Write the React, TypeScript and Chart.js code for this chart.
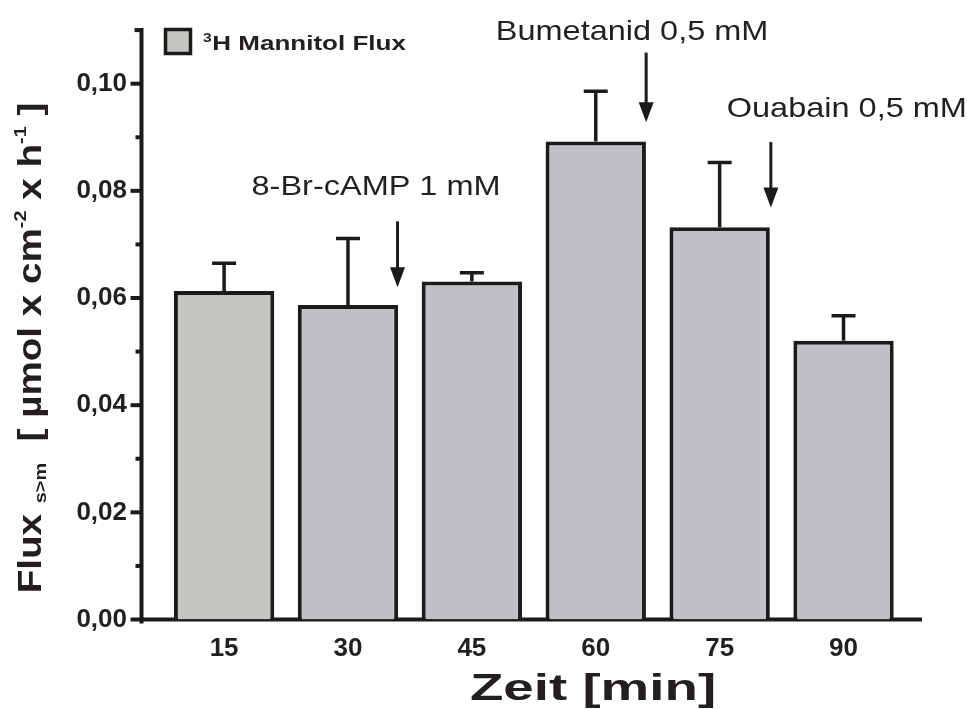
import React, { useEffect, useRef } from 'react';
import { Chart, registerables } from 'chart.js';

Chart.register(...registerables);

// ---- data ----
const categories = [15, 30, 45, 60, 75, 90];
const xTickLabels = ['15', '30', '45', '60', '75', '90'];
const fluxMeans = [0.0613, 0.0587, 0.0631, 0.0892, 0.0732, 0.052];
const fluxSem = [0.0052, 0.0124, 0.0016, 0.0094, 0.0121, 0.0047];
const yTickValues = [0, 0.01, 0.02, 0.03, 0.04, 0.05, 0.06, 0.07, 0.08, 0.09, 0.1];
const yTickLabels = ['0,00', '', '0,02', '', '0,04', '', '0,06', '', '0,08', '', '0,10'];
const seriesLabel = 'H Mannitol Flux';
const seriesLabelSup = '3';
const xTitle = 'Zeit [min]';

const annotationTexts = ['8-Br-cAMP 1 mM', 'Bumetanid 0,5 mM', 'Ouabain 0,5 mM'];
const annotationTextX = [33.4, 64.4, 90.4];
const annotationTextY = [0.0806, 0.1096, 0.0953];
const arrowX = [36, 66.1, 81.2];
const arrowFrom = [0.0743, 0.1058, 0.0891];
const arrowTo = [0.062, 0.0928, 0.0769];

const X_MIN = 5;
const X_MAX = 99.5;
const Y_MAX = 0.11;

const INK = '#1c1a1b';
const TEXT = '#231f20';
const barColors = ['#c5c5c2', '#c0c1c5', '#c0c1c5', '#c0c1c5', '#c0c1c5', '#c0c1c5'];
const FONT = "'Liberation Sans', Arial, sans-serif";

const decorPlugin = {
  id: 'decor',
  beforeDatasetsDraw(chart: any) {
    const { ctx, scales, chartArea } = chart;
    const x = scales.x;
    const y = scales.y;
    const left = chartArea.left;
    const bottom = y.getPixelForValue(0);
    const top = y.getPixelForValue(Y_MAX);
    ctx.save();
    ctx.strokeStyle = INK;
    ctx.lineWidth = 4;
    ctx.lineCap = 'butt';
    const line = (x1: number, y1: number, x2: number, y2: number) => {
      ctx.beginPath();
      ctx.moveTo(x1, y1);
      ctx.lineTo(x2, y2);
      ctx.stroke();
    };
    line(left, top - 2, left, bottom + 4);
    line(left - 7, top, left, top);
    y.ticks.forEach((t: any, i: number) => {
      const py = y.getPixelForValue(t.value);
      const len = yTickLabels[i] ? 11 : 6;
      line(left - len, py, left, py);
    });
    line(left, bottom, x.getPixelForValue(X_MAX), bottom);
    ctx.restore();
  },
  afterDatasetsDraw(chart: any) {
    const { ctx, scales } = chart;
    const x = scales.x;
    const y = scales.y;
    ctx.save();
    ctx.strokeStyle = INK;
    ctx.fillStyle = INK;
    ctx.lineWidth = 3.5;
    // error bars
    categories.forEach((c, i) => {
      const px = x.getPixelForValue(c);
      const p0 = y.getPixelForValue(fluxMeans[i]);
      const p1 = y.getPixelForValue(fluxMeans[i] + fluxSem[i]);
      ctx.beginPath();
      ctx.moveTo(px, p0);
      ctx.lineTo(px, p1);
      ctx.moveTo(px - 12, p1);
      ctx.lineTo(px + 12, p1);
      ctx.stroke();
    });
    // arrows
    ctx.lineWidth = 3;
    arrowX.forEach((ax, i) => {
      const px = x.getPixelForValue(ax);
      const p0 = y.getPixelForValue(arrowFrom[i]);
      const p1 = y.getPixelForValue(arrowTo[i]);
      ctx.beginPath();
      ctx.moveTo(px, p0);
      ctx.lineTo(px, p1 - 16);
      ctx.stroke();
      ctx.beginPath();
      ctx.moveTo(px - 7.5, p1 - 20);
      ctx.lineTo(px + 7.5, p1 - 20);
      ctx.lineTo(px, p1);
      ctx.closePath();
      ctx.fill();
    });

    const stretched = (text: string, cx: number, cy: number, sx: number) => {
      ctx.save();
      ctx.translate(cx, cy);
      ctx.scale(sx, 1);
      ctx.fillText(text, 0, 0);
      ctx.restore();
    };

    // annotation texts
    ctx.fillStyle = TEXT;
    ctx.font = `28px ${FONT}`;
    ctx.textAlign = 'center';
    ctx.textBaseline = 'middle';
    annotationTexts.forEach((t, i) => {
      stretched(t, x.getPixelForValue(annotationTextX[i]), y.getPixelForValue(annotationTextY[i]), 1.16);
    });

    // legend
    ctx.fillStyle = barColors[0];
    ctx.strokeStyle = INK;
    ctx.lineWidth = 3.5;
    ctx.fillRect(165.5, 29.5, 25, 24);
    ctx.strokeRect(165.5, 29.5, 25, 24);
    ctx.fillStyle = TEXT;
    ctx.textAlign = 'left';
    ctx.textBaseline = 'alphabetic';
    ctx.save();
    ctx.translate(203, 0);
    ctx.scale(1.3, 1);
    ctx.font = `bold 12px ${FONT}`;
    ctx.fillText(seriesLabelSup, 0, 42);
    const supW = ctx.measureText(seriesLabelSup).width;
    ctx.font = `bold 20px ${FONT}`;
    ctx.fillText(seriesLabel, supW + 0.5, 50);
    ctx.restore();

    // x title
    ctx.font = `bold 36px ${FONT}`;
    ctx.textAlign = 'center';
    ctx.textBaseline = 'middle';
    stretched(xTitle, 593, 690, 1.52);

    // y title (rotated, with sub/superscripts)
    const parts = [
      { t: 'Flux', s: 33, dy: 0 },
      { t: ' ', s: 33, dy: 0 },
      { t: 's>m', s: 17, dy: 5 },
      { t: '  [ µmol x cm', s: 33, dy: 0 },
      { t: '-2', s: 17, dy: -15 },
      { t: ' x h', s: 33, dy: 0 },
      { t: '-1', s: 17, dy: -15 },
      { t: ' ]', s: 33, dy: 0 },
    ];
    ctx.textAlign = 'left';
    ctx.textBaseline = 'alphabetic';
    let total = 0;
    const widths = parts.map((p) => {
      ctx.font = `bold ${p.s}px ${FONT}`;
      const w = ctx.measureText(p.t).width;
      total += w;
      return w;
    });
    ctx.translate(41, 348);
    ctx.rotate(-Math.PI / 2);
    ctx.scale(1.17, 1);
    let cx = -total / 2;
    parts.forEach((p, i) => {
      ctx.font = `bold ${p.s}px ${FONT}`;
      ctx.fillText(p.t, cx, p.dy);
      cx += widths[i];
    });
    ctx.restore();
  },
};

export default function App() {
  const ref = useRef<HTMLCanvasElement | null>(null);
  useEffect(() => {
    if (!ref.current) return;
    const chart = new Chart(ref.current, {
      type: 'bar',
      data: {
        datasets: [
          {
            label: seriesLabelSup + seriesLabel,
            data: categories.map((c, i) => ({ x: c, y: fluxMeans[i] })),
            backgroundColor: barColors,
            borderColor: INK,
            borderWidth: 4,
            barPercentage: 0.81,
            categoryPercentage: 1,
          },
        ],
      },
      options: {
        responsive: false,
        animation: false,
        layout: { padding: { left: 0, top: 27, right: 45, bottom: 0 } },
        plugins: { legend: { display: false }, tooltip: { enabled: false } },
        scales: {
          x: {
            type: 'linear',
            min: X_MIN,
            max: X_MAX,
            offset: false,
            grid: { display: false, drawTicks: false, offset: false },
            border: { display: false },
            afterBuildTicks: (scale: any) => {
              scale.ticks = categories.map((v) => ({ value: v }));
            },
            afterFit: (scale: any) => {
              scale.height = 89.5;
            },
            ticks: {
              autoSkip: false,
              maxRotation: 0,
              padding: 14,
              color: TEXT,
              font: { family: FONT, size: 26, weight: 'bold' },
              callback: (_v: any, i: number) => xTickLabels[i],
            },
          },
          y: {
            min: 0,
            max: Y_MAX,
            grid: { display: false, drawTicks: false },
            border: { display: false },
            afterBuildTicks: (scale: any) => {
              scale.ticks = yTickValues.map((v) => ({ value: v }));
            },
            afterFit: (scale: any) => {
              scale.width = 141.5;
            },
            ticks: {
              padding: 14.5,
              color: TEXT,
              font: { family: FONT, size: 26, weight: 'bold' },
              callback: (_v: any, i: number) => yTickLabels[i],
            },
          },
        },
      } as any,
      plugins: [decorPlugin],
    });
    return () => chart.destroy();
  }, []);
  return (
    <div style={{ position: 'fixed', left: 0, top: 0, width: 967, height: 709, background: '#fff' }}>
      <canvas ref={ref} width={967} height={709} style={{ display: 'block' }} />
    </div>
  );
}
